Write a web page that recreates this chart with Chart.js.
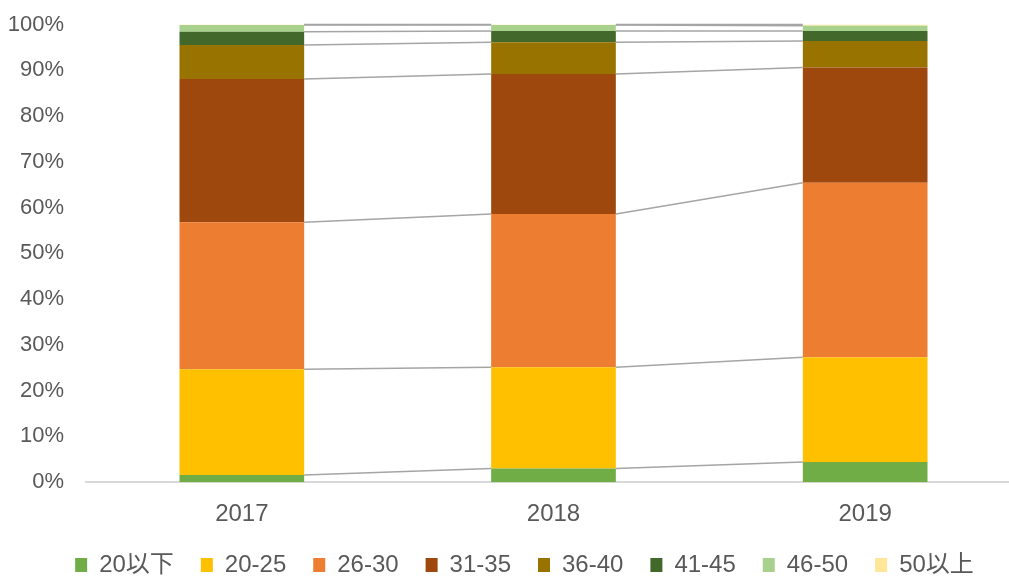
<!DOCTYPE html>
<html>
<head>
<meta charset="utf-8">
<script src="https://cdn.jsdelivr.net/npm/chart.js@4/dist/chart.umd.min.js"></script>
<style>
html,body{margin:0;padding:0;background:#fff;overflow:hidden;width:1009px;height:576px;}
#wrap{position:relative;width:1022px;height:576px;}
</style>
</head>
<body>
<div id="wrap"><canvas id="c"></canvas></div>
<script>
const categories = ["2017", "2018", "2019"];
const seriesNames = ["20以下", "20-25", "26-30", "31-35", "36-40", "41-45", "46-50", "50以上"];
const s20under = [1.6, 3.0, 4.4];
const s20_25   = [23.1, 22.1, 22.9];
const s26_30   = [32.1, 33.5, 38.1];
const s31_35   = [31.3, 30.6, 25.2];
const s36_40   = [7.4, 6.9, 5.8];
const s41_45   = [2.9, 2.5, 2.2];
const s46_50   = [1.5, 1.3, 1.1];
const s50over  = [0.1, 0.1, 0.3];
const yTicks = [0, 10, 20, 30, 40, 50, 60, 70, 80, 90, 100];

const seriesValues = [s20under, s20_25, s26_30, s31_35, s36_40, s41_45, s46_50, s50over];
const colors = ["#70AD47", "#FFC000", "#ED7D31", "#9E480E", "#997300", "#43682B", "#A9D18E", "#FFE699"];

const FONT = "'Liberation Sans', 'Noto Sans CJK JP', sans-serif";

const seriesLines = {
  id: 'seriesLines',
  afterDatasetsDraw(chart) {
    const ctx = chart.ctx;
    ctx.save();
    ctx.strokeStyle = '#A5A5A5';
    ctx.lineWidth = 1.5;
    chart.data.datasets.forEach((ds, i) => {
      const meta = chart.getDatasetMeta(i);
      for (let j = 0; j < meta.data.length - 1; j++) {
        const a = meta.data[j], b = meta.data[j + 1];
        ctx.beginPath();
        ctx.moveTo(a.x + a.width / 2, a.y);
        ctx.lineTo(b.x - b.width / 2, b.y);
        ctx.stroke();
      }
    });
    ctx.restore();
  }
};

const legendShift = {
  id: 'legendShift',
  afterLayout(chart) {
    const lg = chart.legend;
    if (lg) { lg.left += 14; lg.right += 14; }
  }
};

new Chart(document.getElementById('c'), {
  type: 'bar',
  data: {
    labels: categories,
    datasets: seriesValues.map((v, i) => ({
      label: seriesNames[i],
      data: v,
      backgroundColor: colors[i],
      borderWidth: 0,
      categoryPercentage: 1,
      barPercentage: 0.4
    }))
  },
  options: {
    responsive: true,
    maintainAspectRatio: false,
    animation: false,
    layout: { padding: { left: 0, right: 1, top: 24.5, bottom: -11 } },
    plugins: {
      legend: {
        position: 'bottom',
        labels: {
          boxWidth: 12,
          boxHeight: 14,
          padding: 27,
          color: '#595959',
          font: { family: FONT, size: 24 }
        }
      },
      tooltip: { enabled: false }
    },
    scales: {
      x: {
        stacked: true,
        afterFit(scale) { scale.height -= 13; },
        grid: { display: false },
        border: { display: true, color: '#D9D9D9', width: 2 },
        ticks: { color: '#595959', font: { family: FONT, size: 24 }, padding: 10 }
      },
      y: {
        stacked: true,
        min: 0,
        max: 100,
        afterFit(scale) { scale.width = 86; scale.paddingTop = 0; scale.paddingBottom = 0; },
        afterBuildTicks(scale) { scale.ticks = yTicks.map(v => ({ value: v })); },
        grid: { display: false, drawTicks: false },
        border: { display: false },
        ticks: {
          color: '#595959',
          font: { family: FONT, size: 22 },
          padding: 22,
          callback: v => v + '%'
        }
      }
    }
  },
  plugins: [seriesLines, legendShift]
});
</script>
</body>
</html>
